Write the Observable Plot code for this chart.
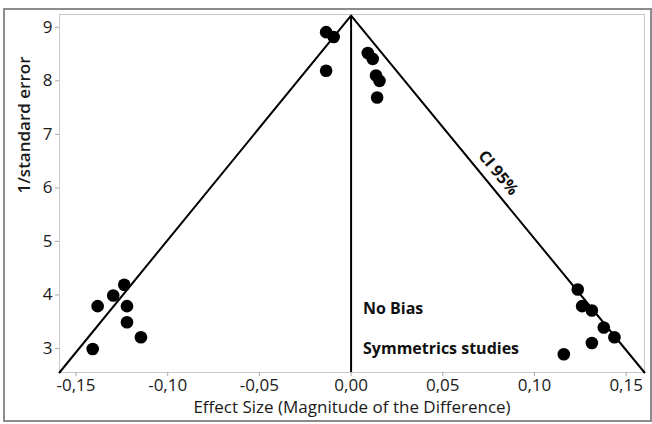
<!DOCTYPE html>
<html>
<head>
<meta charset="utf-8">
<script src="https://cdn.jsdelivr.net/npm/d3@7"></script>
<script src="https://cdn.jsdelivr.net/npm/@observablehq/plot@0.6"></script>
<style>
  html, body { margin: 0; padding: 0; background: #fff; }
  #wrap { position: relative; width: 652px; height: 424px; overflow: hidden; }
  #border { position: absolute; left: 3px; top: 8px; width: 645px; height: 410px; border: 2px solid #8c8c8c; box-sizing: content-box; pointer-events: none; }
  svg { font-family: "Open Sans", sans-serif; }
  svg g[aria-label="x-axis tick label"], svg g[aria-label="y-axis tick label"] { font-size: 17px; }
</style>
</head>
<body>
<div id="wrap"><div id="border"></div></div>
<script>
// Study points (effect size, 1/standard error)
const effect = [
  -0.0136, -0.0095, -0.0136,
  0.0091, 0.0118, 0.0136, 0.0155, 0.0142,
  -0.1237, -0.1297, -0.1382, -0.1222, -0.1222, -0.1146, -0.1409,
  0.1236, 0.1260, 0.1313, 0.1378, 0.1436, 0.1313, 0.1160
];
const invSE = [
  8.91, 8.82, 8.19,
  8.52, 8.41, 8.10, 8.00, 7.69,
  4.19, 3.99, 3.79, 3.79, 3.49, 3.21, 2.99,
  4.10, 3.79, 3.71, 3.39, 3.21, 3.10, 2.89
];
// Funnel (95% CI) outline
const funnelX = [-0.159, 0, 0.160];
const funnelY = [2.55, 9.22, 2.55];
// Tick values
const xTicks = [-0.15, -0.10, -0.05, 0, 0.05, 0.10, 0.15];
const yTicks = [3, 4, 5, 6, 7, 8, 9];
// Annotations
const notes = ["No Bias", "Symmetrics studies"];
const noteX = [0.0065, 0.0065];
const noteY = [3.74, 2.99];
const ciLabel = "CI 95%";

const points = effect.map((x, i) => ({x, y: invSE[i]}));
const funnel = funnelX.map((x, i) => ({x, y: funnelY[i]}));
const noteData = notes.map((t, i) => ({t, x: noteX[i], y: noteY[i]}));
const fmt = v => d3.format(".2f")(v).replace("−", "-").replace(".", ",");

const chart = Plot.plot({
  width: 652,
  height: 424,
  marginLeft: 59,
  marginRight: 8,
  marginTop: 14,
  marginBottom: 52,
  style: {fontFamily: "'Open Sans', sans-serif", fontSize: "17px", background: "transparent"},
  x: {domain: [-0.159, 0.160]},
  y: {domain: [2.55, 9.24]},
  marks: [
    Plot.frame({stroke: "#c8c8c8"}),
    Plot.axisX({ticks: xTicks, tickFormat: fmt, tickSize: 4, tickPadding: 2, stroke: "#aaa", fill: "#1a1a1a", label: null}),
    Plot.axisY({ticks: yTicks, tickFormat: d => String(d), tickSize: 4, tickPadding: 3, stroke: "#aaa", fill: "#1a1a1a", label: null}),
    Plot.text(["Effect Size (Magnitude of the Difference)"], {frameAnchor: "bottom", dy: 35, lineAnchor: "middle", fontSize: 17, fill: "#1a1a1a"}),
    Plot.text(["1/standard error"], {frameAnchor: "left", dx: -35, rotate: -90, lineAnchor: "middle", fontSize: 17, fontWeight: 600, fill: "#1a1a1a"}),
    Plot.line(funnel, {x: "x", y: "y", stroke: "#000", strokeWidth: 2}),
    Plot.ruleX([0], {y1: funnelY[0], y2: funnelY[1], stroke: "#000", strokeWidth: 2}),
    Plot.dot(points, {x: "x", y: "y", r: 6.3, fill: "#000", stroke: "none"}),
    Plot.text(noteData, {x: "x", y: "y", text: "t", textAnchor: "start", fontSize: 16, fontWeight: 700, fill: "#111"}),
    Plot.text([ciLabel], {x: [0.0802], y: [6.28], rotate: 50.5, fontSize: 16, fontWeight: 700, fill: "#111"})
  ]
});
document.getElementById("wrap").appendChild(chart);
chart.style.position = "absolute";
chart.style.left = "0";
chart.style.top = "0";
</script>
</body>
</html>
